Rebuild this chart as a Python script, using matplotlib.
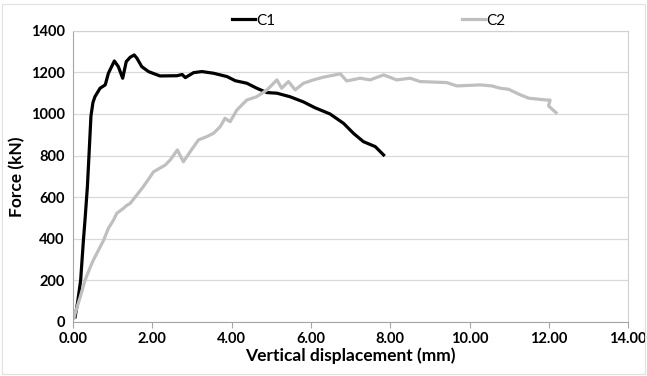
import matplotlib.pyplot as plt
from matplotlib.patches import Rectangle

# C1 (black)
c1_x = [0.05, 0.11, 0.19, 0.26, 0.30, 0.36, 0.40, 0.45, 0.50, 0.55, 0.68, 0.81, 0.89,
        1.04, 1.14, 1.25, 1.34, 1.44, 1.54, 1.61, 1.73, 1.90, 2.19, 2.62, 2.75, 2.83,
        3.04, 3.25, 3.54, 3.88, 4.09, 4.38, 4.63, 4.89, 5.14, 5.47, 5.81, 6.10, 6.48,
        6.82, 7.07, 7.32, 7.62, 7.83]
c1_y = [24, 89, 200, 393, 490, 650, 800, 990, 1055, 1083, 1124, 1140, 1196,
        1255, 1228, 1172, 1252, 1273, 1284, 1268, 1228, 1204, 1183, 1184, 1190, 1175,
        1199, 1204, 1196, 1180, 1160, 1148, 1124, 1103, 1100, 1083, 1058, 1030, 1000,
        955, 907, 867, 843, 803]

# C2 (gray)
c2_x = [0.02, 0.05, 0.18, 0.30, 0.43, 0.51, 0.77, 0.89, 1.02, 1.10, 1.27, 1.35, 1.44,
        1.56, 1.77, 2.03, 2.32, 2.45, 2.63, 2.78, 2.95, 3.16, 3.37, 3.54, 3.71, 3.83,
        3.96, 4.13, 4.38, 4.63, 4.89, 5.14, 5.26, 5.43, 5.60, 5.81, 6.06, 6.31, 6.74,
        6.90, 7.24, 7.49, 7.83, 8.16, 8.50, 8.75, 9.42, 9.68, 10.27, 10.56, 10.77,
        10.98, 11.28, 11.49, 11.95, 12.03, 11.99, 12.18]
c2_y = [18, 40, 120, 200, 262, 297, 393, 450, 490, 522, 546, 560, 570,
        599, 650, 722, 754, 779, 827, 770, 818, 875, 891, 907, 939, 979,
        963, 1019, 1067, 1083, 1116, 1164, 1124, 1156, 1116, 1148, 1164, 1177, 1193,
        1159, 1172, 1164, 1188, 1164, 1172, 1156, 1151, 1135, 1140, 1135, 1124,
        1119, 1092, 1076, 1067, 1067, 1039, 1006]

x_ticks = [0, 2, 4, 6, 8, 10, 12, 14]
y_ticks = [0, 200, 400, 600, 800, 1000, 1200, 1400]

plt.rcParams['font.family'] = ['Lato', 'DejaVu Sans']

fig = plt.figure(figsize=(6.47, 3.76), dpi=100)
ax = fig.add_axes([0.113, 0.144, 0.858, 0.774])
fig.patches.append(Rectangle((0.003, 0.005), 0.994, 0.985, transform=fig.transFigure,
                             fill=False, edgecolor='#e0e0e0', linewidth=0.8))

ax.plot(c1_x, c1_y, color='black', lw=2.3, label='C1', solid_joinstyle='round')
ax.plot(c2_x, c2_y, color='#bfbfbf', lw=2.3, label='C2', solid_joinstyle='round')

ax.set_xlim(0, 14)
ax.set_ylim(0, 1400)
ax.set_xticks(x_ticks)
ax.set_xticklabels(['%.2f' % v for v in x_ticks], fontsize=10.5, fontweight='bold')
ax.set_yticks(y_ticks)
ax.set_yticklabels([str(v) for v in y_ticks], fontsize=10.5, fontweight='bold')
ax.grid(axis='y', color='#d9d9d9', lw=0.9)
ax.set_axisbelow(True)
for s in ax.spines.values():
    s.set_color('#d0d0d0')
ax.spines['left'].set_color('#a6a6a6')
ax.spines['bottom'].set_color('#a6a6a6')
ax.tick_params(axis='y', length=0, pad=6)
ax.tick_params(axis='x', length=4, color='#a6a6a6', pad=3)

ax.set_xlabel('Vertical displacement (mm)', fontsize=12.5, fontweight='bold', labelpad=1)
ax.set_ylabel('Force (kN)', fontsize=12.5, fontweight='bold', labelpad=4)

fig.legend(loc='upper center', bbox_to_anchor=(0.57, 1.0), ncol=2, frameon=False,
           fontsize=11, handlelength=1.5, handletextpad=0.1, columnspacing=12.2)

fig.savefig('out.png', dpi=100)
